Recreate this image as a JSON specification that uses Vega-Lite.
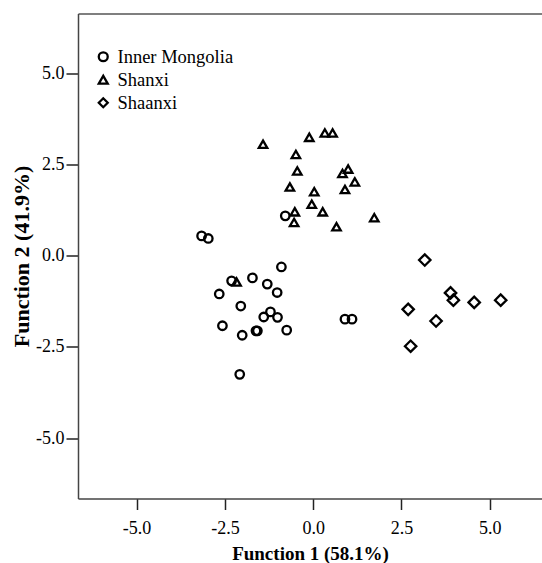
{
  "$schema": "https://vega.github.io/schema/vega-lite/v6.json",
  "width": 464,
  "height": 485,
  "autosize": "none",
  "padding": {"left": 78, "top": 13.5, "right": 0, "bottom": 64.5},
  "background": "white",
  "config": {
    "view": {"stroke": null},
    "font": "Liberation Serif",
    "axis": {
      "grid": false,
      "domainColor": "#444",
      "domainWidth": 1.5,
      "tickColor": "#222",
      "tickWidth": 1.5,
      "labelColor": "#000",
      "labelFont": "Liberation Serif",
      "labelFontSize": 18,
      "titleColor": "#000",
      "titleFont": "Liberation Serif",
      "titleFontWeight": "bold"
    },
    "legend": {
      "orient": "none",
      "legendX": 16,
      "legendY": 34,
      "padding": 0,
      "labelFont": "Liberation Serif",
      "labelFontSize": 18.5,
      "labelColor": "#000",
      "labelOffset": 5,
      "rowPadding": 4,
      "symbolSize": 80,
      "symbolStrokeColor": "#000",
      "symbolStrokeWidth": 2.3,
      "symbolFillColor": "transparent"
    }
  },
  "data": {
    "values": [
      {"group": "Inner Mongolia", "f1": -0.79, "f2": 1.09},
      {"group": "Inner Mongolia", "f1": -3.16, "f2": 0.54},
      {"group": "Inner Mongolia", "f1": -2.97, "f2": 0.47},
      {"group": "Inner Mongolia", "f1": -0.90, "f2": -0.31},
      {"group": "Inner Mongolia", "f1": -2.31, "f2": -0.69},
      {"group": "Inner Mongolia", "f1": -1.72, "f2": -0.61},
      {"group": "Inner Mongolia", "f1": -1.30, "f2": -0.78},
      {"group": "Inner Mongolia", "f1": -1.02, "f2": -1.01},
      {"group": "Inner Mongolia", "f1": -2.66, "f2": -1.05},
      {"group": "Inner Mongolia", "f1": -2.05, "f2": -1.38},
      {"group": "Inner Mongolia", "f1": -1.21, "f2": -1.54},
      {"group": "Inner Mongolia", "f1": -1.40, "f2": -1.68},
      {"group": "Inner Mongolia", "f1": -1.01, "f2": -1.69},
      {"group": "Inner Mongolia", "f1": -2.57, "f2": -1.92},
      {"group": "Inner Mongolia", "f1": -2.01, "f2": -2.18},
      {"group": "Inner Mongolia", "f1": -1.62, "f2": -2.06},
      {"group": "Inner Mongolia", "f1": -1.58, "f2": -2.06},
      {"group": "Inner Mongolia", "f1": -0.75, "f2": -2.04},
      {"group": "Inner Mongolia", "f1": -2.08, "f2": -3.25},
      {"group": "Inner Mongolia", "f1": 0.90, "f2": -1.74},
      {"group": "Inner Mongolia", "f1": 1.10, "f2": -1.74},
      {"group": "Shanxi", "f1": -1.42, "f2": 3.05},
      {"group": "Shanxi", "f1": -0.11, "f2": 3.24},
      {"group": "Shanxi", "f1": 0.33, "f2": 3.36},
      {"group": "Shanxi", "f1": 0.55, "f2": 3.36},
      {"group": "Shanxi", "f1": -0.49, "f2": 2.77},
      {"group": "Shanxi", "f1": -0.45, "f2": 2.32},
      {"group": "Shanxi", "f1": -0.66, "f2": 1.88},
      {"group": "Shanxi", "f1": 0.03, "f2": 1.75},
      {"group": "Shanxi", "f1": -0.04, "f2": 1.41},
      {"group": "Shanxi", "f1": 0.27, "f2": 1.20},
      {"group": "Shanxi", "f1": -0.52, "f2": 1.20},
      {"group": "Shanxi", "f1": -0.54, "f2": 0.91},
      {"group": "Shanxi", "f1": 0.66, "f2": 0.79},
      {"group": "Shanxi", "f1": 0.83, "f2": 2.25},
      {"group": "Shanxi", "f1": 0.99, "f2": 2.37},
      {"group": "Shanxi", "f1": 1.18, "f2": 2.02},
      {"group": "Shanxi", "f1": 0.90, "f2": 1.81},
      {"group": "Shanxi", "f1": 1.73, "f2": 1.04},
      {"group": "Shanxi", "f1": -2.17, "f2": -0.72},
      {"group": "Shaanxi", "f1": 3.16, "f2": -0.12},
      {"group": "Shaanxi", "f1": 3.89, "f2": -1.02},
      {"group": "Shaanxi", "f1": 3.97, "f2": -1.22},
      {"group": "Shaanxi", "f1": 4.56, "f2": -1.28},
      {"group": "Shaanxi", "f1": 5.31, "f2": -1.22},
      {"group": "Shaanxi", "f1": 2.69, "f2": -1.47},
      {"group": "Shaanxi", "f1": 3.48, "f2": -1.79},
      {"group": "Shaanxi", "f1": 2.76, "f2": -2.48}
    ]
  },
  "encoding": {
    "x": {
      "field": "f1", "type": "quantitative",
      "scale": {"domain": [-6.66, 6.48], "nice": false, "zero": false},
      "axis": {
        "orient": "bottom",
        "values": [-5, -2.5, 0, 2.5, 5],
        "labelExpr": "datum.value < 0 ? '-' + format(-datum.value, '.1f') : format(datum.value, '.1f')",
        "tickSize": 11,
        "labelPadding": 10,
        "title": "Function 1 (58.1%)",
        "titleFontSize": 19,
        "titlePadding": 7
      }
    },
    "y": {
      "field": "f2", "type": "quantitative",
      "scale": {"domain": [-6.65, 6.63], "nice": false, "zero": false},
      "axis": {
        "values": [-5, -2.5, 0, 2.5, 5],
        "labelExpr": "datum.value < 0 ? '-' + format(-datum.value, '.1f') : format(datum.value, '.1f')",
        "tickSize": 12,
        "labelPadding": 2,
        "title": "Function 2 (41.9%)",
        "titleFontSize": 22,
        "titlePadding": 2
      }
    },
    "shape": {
      "field": "group", "type": "nominal",
      "scale": {"domain": ["Inner Mongolia", "Shanxi", "Shaanxi"], "range": ["circle", "triangle-up", "diamond"]},
      "legend": {"title": null}
    }
  },
  "layer": [
    {
      "transform": [{"filter": "datum.group == 'Inner Mongolia'"}],
      "mark": {"type": "point", "filled": false, "strokeWidth": 2.3, "color": "#000", "opacity": 1, "size": 72}
    },
    {
      "transform": [{"filter": "datum.group == 'Shanxi'"}],
      "mark": {"type": "point", "filled": false, "strokeWidth": 2.3, "color": "#000", "opacity": 1, "size": 72},
      "encoding": {
        "x": {"field": "f1", "type": "quantitative", "axis": null}
      }
    },
    {
      "transform": [{"filter": "datum.group == 'Shaanxi'"}],
      "mark": {"type": "point", "filled": false, "strokeWidth": 2.3, "color": "#000", "opacity": 1, "size": 130},
      "encoding": {
        "x": {"field": "f1", "type": "quantitative", "axis": null}
      }
    },
    {
      "mark": {"type": "point", "opacity": 0},
      "encoding": {
        "x": {
          "field": "f1", "type": "quantitative",
          "axis": {"orient": "top", "labels": false, "ticks": false, "title": null, "domainColor": "#555", "domainWidth": 1.5}
        }
      }
    }
  ],
  "resolve": {"axis": {"x": "independent"}}
}
